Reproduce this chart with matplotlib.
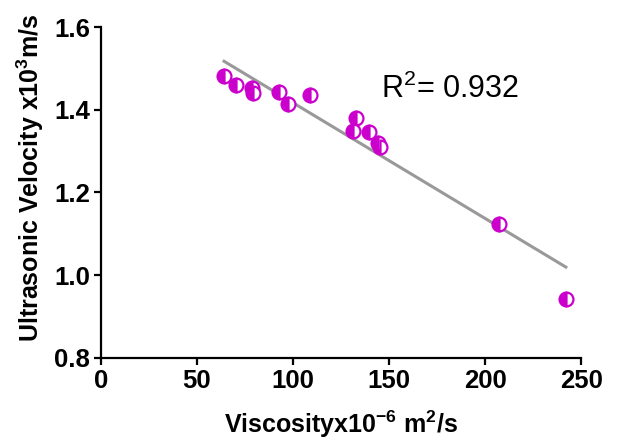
import matplotlib

matplotlib.use("Agg")

import matplotlib.pyplot as plt
import numpy as np

# values
viscosity = [64.1, 70.4, 78.7, 79.2, 92.8, 97.5, 109.0, 133.0, 131.0,
             139.7, 144.0, 145.5, 207.0, 242.0]
velocity = [1.482, 1.460, 1.453, 1.441, 1.443, 1.414, 1.436, 1.380, 1.349,
            1.347, 1.320, 1.310, 1.124, 0.943]
x_ticks = [0, 50, 100, 150, 200, 250]
y_ticks = [0.8, 1.0, 1.2, 1.4, 1.6]
r_squared = "0.932"

plt.rcParams["font.family"] = ["Liberation Sans", "DejaVu Sans"]
plt.rcParams["mathtext.fontset"] = "custom"
plt.rcParams["mathtext.rm"] = "Liberation Sans"
plt.rcParams["mathtext.bf"] = "Liberation Sans:bold"

MAGENTA = "#cc00cc"

fig = plt.figure(figsize=(6.19, 4.44), dpi=100)
ax = fig.add_axes([0.163, 0.194, 0.776, 0.745])

# linear regression line over the data range
x = np.array(viscosity)
y = np.array(velocity)
slope, intercept = np.polyfit(x, y, 1)
fit_x = np.array([x.min(), x.max()])
ax.plot(fit_x, slope * fit_x + intercept, color="#999999", linewidth=2.2,
        zorder=2)

ax.plot(x, y, linestyle="none", marker="o", markersize=10, fillstyle="left",
        markerfacecolor=MAGENTA, markerfacecoloralt="white",
        markeredgecolor=MAGENTA, markeredgewidth=1.6, zorder=3)

ax.text(146, 1.428, r"R$^{2}$= " + r_squared, fontsize=22, va="baseline",
        ha="left", color="black")

ax.set_xlim(0, 250)
ax.set_ylim(0.8, 1.6)
ax.set_xticks(x_ticks)
ax.set_yticks(y_ticks)
ax.set_xticklabels([str(t) for t in x_ticks])
ax.set_yticklabels([f"{t:.1f}" for t in y_ticks])

for side in ("top", "right"):
    ax.spines[side].set_visible(False)
for side in ("left", "bottom"):
    ax.spines[side].set_linewidth(1.6)
ax.tick_params(direction="out", length=5, width=1.6, labelsize=18.5, pad=3)
for label in ax.get_xticklabels() + ax.get_yticklabels():
    label.set_fontweight("bold")

ax.set_xlabel(r"Viscosityx$\mathbf{10^{-6}}$ m$\mathbf{^{2}}$/s",
              fontsize=18, fontweight="bold", labelpad=11)
ax.set_ylabel(r"Ultrasonic Velocity x$\mathbf{10^{3}}$m/s",
              fontsize=18, fontweight="bold")
ax.yaxis.set_label_coords(-0.115, 0.545)

fig.savefig("out.png", dpi=100)
